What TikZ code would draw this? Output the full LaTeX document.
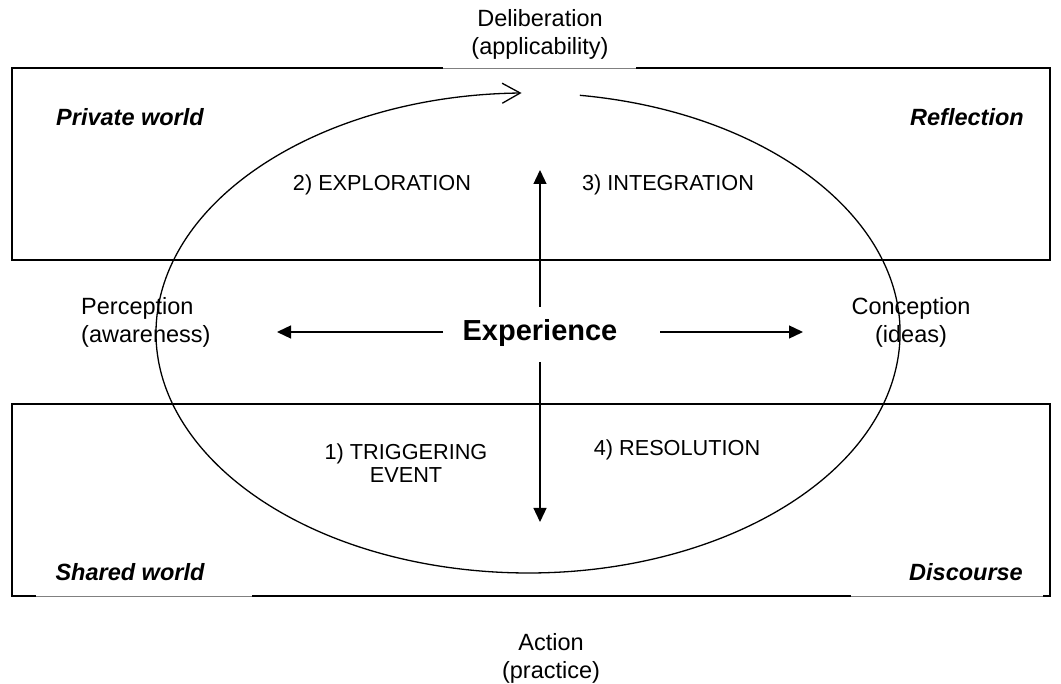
\documentclass[tikz,border=0pt]{standalone}
\usepackage{fontspec}
\setmainfont{Liberation Sans}
\usetikzlibrary{arrows.meta}
\begin{document}
\begin{tikzpicture}[x=1pt,y=-1pt,
  box/.style={line width=1.6pt},
  gapline/.style={line width=0.7pt, draw=gray},
  lbl/.style={font=\fontsize{23.5}{28}\selectfont, align=center, inner sep=0pt},
  world/.style={font=\fontsize{23.5}{28}\selectfont\bfseries\itshape, inner sep=0pt},
  phase/.style={font=\fontsize{21.7}{23}\selectfont, align=center, inner sep=0pt},
  arr/.style={line width=1.3pt, -{Triangle[length=14pt,width=13pt]}}]
\useasboundingbox (0,0) rectangle (1061,684);
% rectangles
\draw[box] (443,68) -- (12,68) -- (12,260) -- (1050,260) -- (1050,68) -- (636,68);
\draw[gapline] (443,68) -- (636,68);
\draw[box] (36,596) -- (12,596) -- (12,404) -- (1050,404) -- (1050,596) -- (1043,596);
\draw[box] (252,596) -- (851,596);
\draw[gapline] (36,596) -- (252,596);
\draw[gapline] (851,596) -- (1043,596);
% cycle ellipse
\coordinate (ecenter) at (528,333);
\coordinate (estart) at (579.8,95.3);
\draw[line width=1.3pt, -{Straight Barb[length=18pt,width=20pt]}] (estart) arc[start angle=-82, end angle=269, x radius=372, y radius=240];
% labels
\node[lbl] (delib) at (540,34) {Deliberation\\(applicability)};
\node[lbl] (action) at (551,658) {Action\\(practice)};
\node[lbl] (concep) at (911,322) {Conception\\(ideas)};
\node[lbl, align=left, anchor=west] (percep) at (81,322) {Perception\\(awareness)};
\node[world] (private) at (130,117) {Private world};
\node[world] (reflect) at (967,117) {Reflection};
\node[world] (shared) at (130,572) {Shared world};
\node[world] (discourse) at (966,572) {Discourse};
\node[font=\fontsize{29}{32}\selectfont\bfseries, inner sep=0pt] (exp) at (540,333) {Experience};
\node[phase] (explor) at (382,185) {2) EXPLORATION};
\node[phase] (integ) at (668,185) {3) INTEGRATION};
\node[phase] (trigger) at (406,463) {1) TRIGGERING\\EVENT};
\node[phase] (resol) at (677,450) {4) RESOLUTION};
% arrows
\coordinate (lstart) at (443,332);
\coordinate (lend) at (277,332);
\coordinate (rstart) at (660,332);
\coordinate (rend) at (803,332);
\coordinate (ustart) at (540,307);
\coordinate (uend) at (540,170);
\coordinate (dstart) at (540,362);
\coordinate (dend) at (540,522);
\draw[arr] (lstart) -- (lend);
\draw[arr] (rstart) -- (rend);
\draw[arr] (ustart) -- (uend);
\draw[arr] (dstart) -- (dend);
\end{tikzpicture}
\end{document}
